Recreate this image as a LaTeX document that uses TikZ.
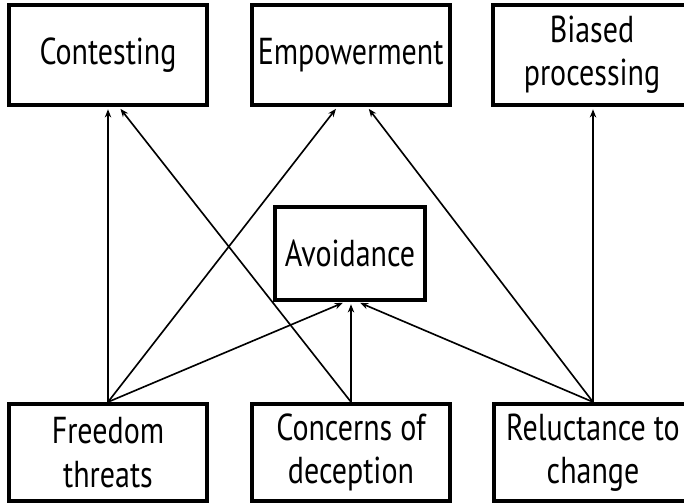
\documentclass[tikz,border=0pt]{standalone}
\usepackage{fontspec}
\setmainfont{PT Sans}[FakeStretch=0.8]
\usepackage{tikz}
\usetikzlibrary{arrows.meta,positioning,calc}

\begin{document}
\begin{tikzpicture}[
    box/.style={rectangle, draw, line width=3.4pt,
                minimum height=3.0cm, minimum width=5.94cm,
                align=center, font=\fontsize{32}{37}\selectfont, inner sep=2pt},
    mid/.style={box, minimum height=2.79cm, minimum width=4.5cm},
    low/.style={box, minimum height=2.91cm},
    link/.style={line width=1.4pt, ->, >={Stealth[length=7pt,width=5.5pt]}, shorten >=2pt},
  ]
  \useasboundingbox (0,0) rectangle (20.52,15.06);

  % Outcomes
  \node[box] (cont) at (3.24, 13.41) {Contesting};
  \node[box] (emp) at (10.52, 13.41) {Empowerment};
  \node[box] (bias) at (17.76, 13.41) {Biased\\processing};

  % Avoidance
  \node[mid] (avoid) at (10.5, 7.455) {Avoidance};

  % Causes
  \node[low] (free) at (3.24, 1.485) {Freedom\\threats};
  \node[low] (conc) at (10.53, 1.485) {Concerns of\\deception};
  \node[low] (rel) at (17.79, 1.485) {Reluctance to\\change};

  % Freedom threats
  \draw[link] (free.north) -- (free.north |- cont.south);
  \draw[link] (free.north) -- ([xshift=-0.4cm]emp.south);
  \draw[link] (free.north) -- ([xshift=-0.15cm]avoid.south);

  % Concerns of deception
  \draw[link] (conc.north) -- ([xshift=0.33cm]cont.south);
  \draw[link] (conc.north) -- (conc.north |- avoid.south);

  % Reluctance to change
  \draw[link] (rel.north) -- ([xshift=0.5cm]emp.south);
  \draw[link] (rel.north) -- ([xshift=0.24cm]avoid.south);
  \draw[link] (rel.north) -- (rel.north |- bias.south);
\end{tikzpicture}
\end{document}
